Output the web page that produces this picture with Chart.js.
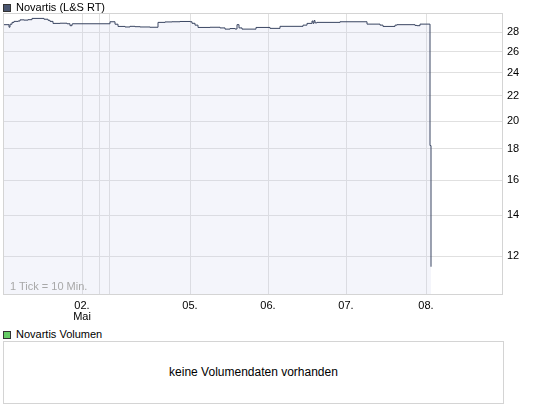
<!DOCTYPE html>
<html>
<head>
<meta charset="utf-8">
<script src="https://cdn.jsdelivr.net/npm/chart.js@4"></script>
<style>
  body { margin: 0; background: #fff; font-family: Arial, "Liberation Sans", sans-serif; font-size: 11px; color: #000; }
  #wrap { position: relative; width: 545px; height: 407px; overflow: hidden; }
  #priceChart { position: absolute; left: 0; top: 0; }
  .legend { position: absolute; left: 3px; height: 12px; line-height: 12px; white-space: nowrap; }
  .legend .sq { display: inline-block; width: 6px; height: 6px; border: 1px solid #333; vertical-align: -1px; margin-right: 5px; }
  #tickNote { position: absolute; left: 10px; top: 280px; color: #a8a8a8; line-height: 13px; }
  #volBox { position: absolute; left: 3px; top: 341px; width: 501px; height: 63px; box-sizing: border-box;
            border: 1px solid #d4d4d4; font-size: 12px; text-align: center; line-height: 61px; }
</style>
</head>
<body>
<div id="wrap">
  <canvas id="priceChart" width="545" height="326"></canvas>
  <div class="legend" style="top:1px"><span class="sq" style="background:#4a5670"></span>Novartis (L&amp;S RT)</div>
  <div id="tickNote">1 Tick = 10 Min.</div>
  <div class="legend" style="top:328px"><span class="sq" style="background:#66cc66"></span>Novartis Volumen</div>
  <div id="volBox">keine Volumendaten vorhanden</div>
</div>
<script>
// time axis in 10-minute ticks, prices
const tickIdx = [0, 5, 6, 7, 9, 11, 15, 17, 21, 25, 29, 37, 41, 45, 47, 50, 57, 64, 67, 69, 70,
    107, 112, 115, 122, 127, 132, 137, 147, 155, 162, 169, 177, 187, 189, 192, 195, 207, 217,
    222, 227, 232, 234, 236, 239, 253, 267, 277, 300, 304, 309, 310, 311, 312, 314, 337, 364,
    377, 380, 392, 394, 412, 414, 417, 427, 428];
const prices = [28.80, 28.80, 28.53, 28.85, 29.05, 29.16, 29.20, 29.33, 29.30, 29.35, 29.49, 29.49,
    29.40, 29.28, 29.16, 28.94, 28.96, 28.90, 28.69, 28.88, 28.90,
    29.12, 28.85, 28.61, 28.55, 28.62, 28.58, 28.55, 28.52, 29.05, 29.10, 29.12, 29.15, 29.12,
    28.95, 28.75, 28.50, 28.52, 28.45, 28.32, 28.38, 28.33, 28.80, 28.45, 28.32, 28.50, 28.40,
    28.62, 28.75, 28.94, 29.20, 28.95, 29.25, 29.00, 29.05, 29.12, 28.86,
    28.75, 28.61, 28.75, 28.80, 28.72, 28.69, 28.86, 18.23, 11.53];

// day boundaries on the time axis and their labels
const dayTicks = [79, 96, 106, 187, 265, 343, 423];
const dayLabels = [['02.', 'Mai'], '', '', '05.', '06.', '07.', '08.'];

const priceTicks = [12, 14, 16, 18, 20, 22, 24, 26, 28];

const gridColor = '#e0e0e0';

// full frame round the plot area
const boxBorder = {
    id: 'boxBorder',
    afterDraw(chart) {
        const a = chart.chartArea;
        const ctx = chart.ctx;
        ctx.save();
        ctx.strokeStyle = '#d4d4d4';
        ctx.lineWidth = 1;
        ctx.strokeRect(Math.round(a.left) + 0.5, Math.round(a.top) + 0.5,
            Math.round(a.right - a.left) - 1, Math.round(a.bottom - a.top));
        ctx.restore();
    }
};

const ctx = document.getElementById('priceChart').getContext('2d');
new Chart(ctx, {
    type: 'line',
    data: {
        datasets: [{
            label: 'Novartis (L&S RT)',
            data: tickIdx.map((t, i) => ({ x: t, y: prices[i] })),
            borderColor: '#3a4662',
            borderWidth: 1,
            backgroundColor: 'rgba(200, 205, 235, 0.2)',
            fill: 'start',
            stepped: true,
            pointRadius: 0,
            tension: 0
        }]
    },
    options: {
        responsive: false,
        animation: false,
        devicePixelRatio: 1,
        layout: { padding: { left: 3, top: 13, right: 0, bottom: 0 } },
        plugins: {
            legend: { display: false },
            tooltip: { enabled: false }
        },
        scales: {
            x: {
                type: 'linear',
                min: 0,
                max: 500,
                afterBuildTicks: axis => { axis.ticks = dayTicks.map(v => ({ value: v })); },
                afterFit: axis => { axis.height = 32; },
                grid: { color: gridColor, drawTicks: false },
                border: { display: false },
                ticks: {
                    autoSkip: false,
                    maxRotation: 0,
                    padding: 6,
                    color: '#000',
                    font: { family: 'Arial, "Liberation Sans", sans-serif', size: 11, lineHeight: 1 },
                    callback: (value, index) => dayLabels[index]
                }
            },
            y: {
                type: 'logarithmic',
                position: 'right',
                min: 10.4,
                max: 30.1,
                afterBuildTicks: axis => { axis.ticks = priceTicks.map(v => ({ value: v })); },
                afterFit: axis => { axis.width = 42; },
                grid: { color: gridColor, drawTicks: false },
                border: { display: false },
                ticks: {
                    padding: 4,
                    color: '#000',
                    font: { family: 'Arial, "Liberation Sans", sans-serif', size: 11 },
                    callback: value => String(value)
                }
            }
        }
    },
    plugins: [boxBorder]
});
</script>
</body>
</html>
